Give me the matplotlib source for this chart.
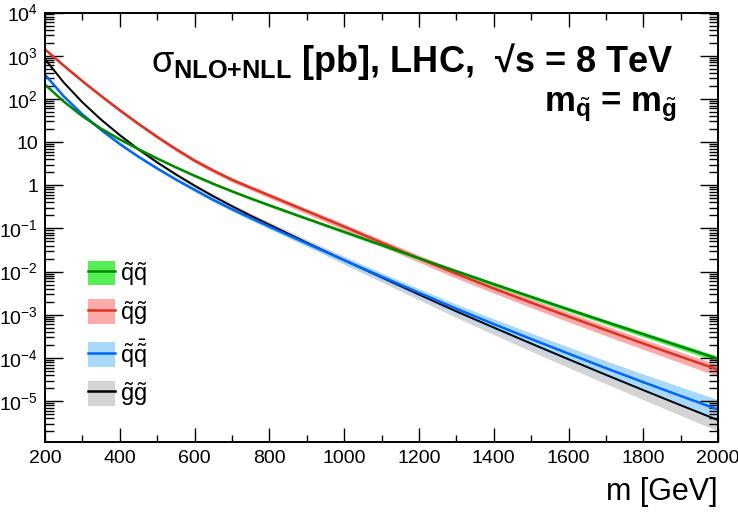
import numpy as np
import matplotlib
matplotlib.use('Agg')
import matplotlib.pyplot as plt
from matplotlib.patches import Patch
from matplotlib.lines import Line2D
from matplotlib.ticker import LogLocator, MultipleLocator, FuncFormatter, NullFormatter

plt.rcParams['font.family'] = ['Liberation Sans', 'DejaVu Sans']
plt.rcParams['mathtext.fontset'] = 'custom'
plt.rcParams['mathtext.rm'] = 'Liberation Sans'
plt.rcParams['mathtext.it'] = 'Liberation Sans'
plt.rcParams['mathtext.bf'] = 'Liberation Sans:bold'
plt.rcParams['mathtext.sf'] = 'Liberation Sans'

# sparticle mass m [GeV]
mass = [200, 250, 300, 350, 400, 450, 500, 550, 600, 650, 700, 750, 800,
        900, 1000, 1100, 1200, 1300, 1400, 1500, 1600, 1700, 1800, 1900, 2000]

# NLO+NLL cross sections [pb]
xs_sqsq = [214, 87.1, 39.8, 20.4, 11.5, 6.84, 4.17, 2.60, 1.66, 1.08, 0.724, 0.495, 0.343,
           0.168, 0.0832, 0.0412, 0.0204, 0.0102, 5.13e-3, 2.60e-3, 1.33e-3, 6.84e-4, 3.55e-4, 1.84e-4, 9.55e-5]
xs_sqgl = [1403, 592, 258, 117, 54.6, 26.4, 13.2, 6.87, 3.73, 2.19, 1.34, 0.877, 0.579,
           0.252, 0.110, 0.0468, 0.0202, 8.91e-3, 4.07e-3, 1.91e-3, 9.12e-4, 4.42e-4, 2.16e-4, 1.07e-4, 5.37e-5]
xs_sqsqbar = [363, 115, 43.7, 19.1, 9.02, 4.57, 2.45, 1.36, 0.785, 0.457, 0.279, 0.174, 0.110,
              0.0447, 0.0184, 7.67e-3, 3.24e-3, 1.38e-3, 6.10e-4, 2.75e-4, 1.26e-4, 5.82e-5, 2.75e-5, 1.32e-5, 6.38e-6]
xs_glgl = [832, 240, 83.2, 33.1, 14.5, 6.76, 3.39, 1.78, 0.977, 0.556, 0.327, 0.197, 0.122,
           0.0468, 0.0184, 7.33e-3, 2.95e-3, 1.20e-3, 5.07e-4, 2.16e-4, 9.33e-5, 4.07e-5, 1.80e-5, 8.04e-6, 3.63e-6]

# relative theory uncertainties
unc_sqsq = [0.05, 0.05, 0.05, 0.05, 0.05, 0.05, 0.05, 0.055, 0.06, 0.06, 0.06, 0.065, 0.07,
            0.07, 0.08, 0.08, 0.09, 0.09, 0.10, 0.10, 0.11, 0.12, 0.13, 0.14, 0.15]
unc_sqgl = [0.08, 0.08, 0.08, 0.08, 0.09, 0.09, 0.10, 0.10, 0.11, 0.11, 0.12, 0.12, 0.13,
            0.15, 0.16, 0.18, 0.19, 0.21, 0.22, 0.23, 0.25, 0.26, 0.27, 0.28, 0.30]
up_sqsqbar = [0.06, 0.06, 0.06, 0.06, 0.07, 0.07, 0.08, 0.08, 0.09, 0.10, 0.11, 0.12, 0.13,
              0.15, 0.18, 0.21, 0.24, 0.28, 0.32, 0.37, 0.42, 0.48, 0.54, 0.61, 0.70]
dn_sqsqbar = [0.06, 0.06, 0.06, 0.06, 0.07, 0.07, 0.08, 0.08, 0.09, 0.095, 0.10, 0.11, 0.12,
              0.14, 0.16, 0.18, 0.21, 0.24, 0.27, 0.30, 0.33, 0.36, 0.39, 0.42, 0.46]
up_glgl = [0.08, 0.08, 0.08, 0.08, 0.09, 0.09, 0.10, 0.11, 0.12, 0.13, 0.14, 0.155, 0.17,
           0.20, 0.24, 0.28, 0.33, 0.39, 0.46, 0.54, 0.63, 0.73, 0.84, 0.96, 1.10]
dn_glgl = [0.08, 0.08, 0.08, 0.08, 0.09, 0.09, 0.10, 0.105, 0.11, 0.12, 0.13, 0.14, 0.15,
           0.17, 0.20, 0.22, 0.25, 0.28, 0.31, 0.34, 0.36, 0.38, 0.40, 0.42, 0.44]

labels = [r'$\tilde{\mathrm{q}}\tilde{\mathrm{q}}$',
          r'$\tilde{\mathrm{q}}\tilde{\mathrm{g}}$',
          r'$\tilde{\mathrm{q}}\bar{\tilde{\mathrm{q}}}$',
          r'$\tilde{\mathrm{g}}\tilde{\mathrm{g}}$']

m = np.array(mass)

fig, ax = plt.subplots(figsize=(7.38, 5.13), dpi=100)
fig.subplots_adjust(left=0.061, right=0.973, bottom=0.139, top=0.9756)

def band(xs, up, dn, bcol, lcol, lw):
    xs = np.array(xs)
    ax.fill_between(m, xs * (1 - np.array(dn)), xs * (1 + np.array(up)), color=bcol, lw=0)
    ax.plot(m, xs, color=lcol, lw=lw)

band(xs_glgl, up_glgl, dn_glgl, '#d4d4d4', 'black', 1.4)
band(xs_sqsqbar, up_sqsqbar, dn_sqsqbar, '#a8d8fa', '#0066ff', 1.8)
band(xs_sqgl, unc_sqgl, unc_sqgl, '#ffaaaa', '#dd3322', 1.8)
band(xs_sqsq, unc_sqsq, unc_sqsq, '#55ee55', '#008800', 1.8)

ax.set_yscale('log')
ax.set_xlim(200, 2000)
ax.set_ylim(1.15e-6, 1e4)

ax.xaxis.set_major_locator(MultipleLocator(200))
ax.xaxis.set_minor_locator(MultipleLocator(100))
ax.yaxis.set_major_locator(LogLocator(base=10, numticks=20))
ax.yaxis.set_minor_locator(LogLocator(base=10, subs=np.arange(2, 10), numticks=20))
ax.yaxis.set_minor_formatter(NullFormatter())

def ylab(v, pos):
    e = int(round(np.log10(v)))
    if e == 0:
        return '1'
    if e == 1:
        return '10'
    return r'$10^{%d}$' % e

ax.yaxis.set_major_formatter(FuncFormatter(ylab))

ax.tick_params(which='both', direction='in', top=True, right=True, labelsize=14, width=1.0)
ax.tick_params(axis='x', which='major', length=10, pad=6)
ax.tick_params(axis='x', which='minor', length=5)
ax.tick_params(axis='y', which='major', length=12.7, pad=5)
ax.tick_params(axis='y', which='minor', length=6.5)
for s in ax.spines.values():
    s.set_linewidth(1.4)

fig.text(0.973, 0.025, 'm [GeV]', ha='right', va='baseline', fontsize=22)

ax.text(0.933, 0.862, r'$\sigma_{\mathbf{NLO{+}NLL}}$ [pb], LHC,  √s = 8 TeV',
        transform=ax.transAxes, ha='right', va='baseline', fontsize=26, fontweight='bold')
ax.text(0.939, 0.770, r'$\mathbf{m}_{\tilde{\mathbf{q}}}$ = $\mathbf{m}_{\tilde{\mathbf{g}}}$',
        transform=ax.transAxes, ha='right', va='baseline', fontsize=25, fontweight='bold')

handles = [(Patch(color='#55ee55', lw=0), Line2D([], [], color='#008800', lw=1.8)),
           (Patch(color='#ffaaaa', lw=0), Line2D([], [], color='#dd3322', lw=1.8)),
           (Patch(color='#a8d8fa', lw=0), Line2D([], [], color='#0066ff', lw=1.8)),
           (Patch(color='#d4d4d4', lw=0), Line2D([], [], color='black', lw=1.8))]
ax.legend(handles, labels, loc='upper left', bbox_to_anchor=(0.0634, 0.423),
          frameon=False, fontsize=17, handlelength=1.15, handleheight=1.23,
          labelspacing=0.45, handletextpad=0.2, borderpad=0, borderaxespad=0)

fig.savefig('out.png', dpi=100)
